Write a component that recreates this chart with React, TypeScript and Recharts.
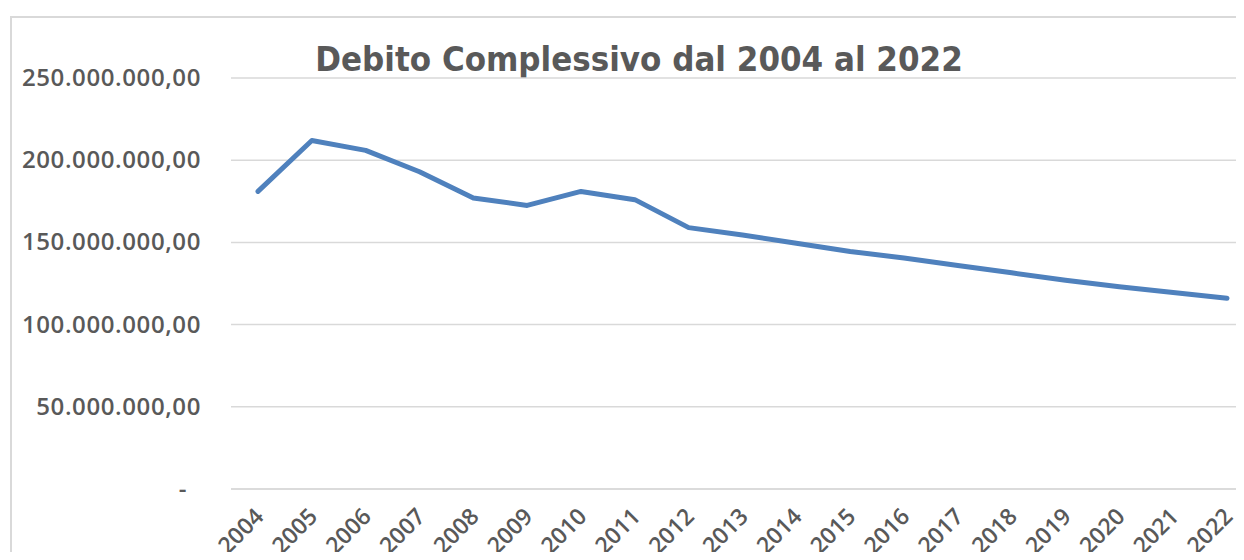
import { LineChart, Line, XAxis, YAxis, CartesianGrid } from 'recharts';

const years = [
  '2004', '2005', '2006', '2007', '2008', '2009', '2010', '2011', '2012', '2013',
  '2014', '2015', '2016', '2017', '2018', '2019', '2020', '2021', '2022',
];
const debito = [
  181000000, 212000000, 206000000, 193000000, 177000000, 172500000, 181000000, 176000000, 159000000, 154500000,
  149500000, 144500000, 140500000, 136000000, 131500000, 127000000, 123000000, 119500000, 116000000,
];
const yTicks = [0, 50000000, 100000000, 150000000, 200000000, 250000000];

const chartData = years.map((y, i) => ({ anno: y, debito: debito[i] }));

const GREY = '#595959';
const FONT = '"Open Sans", sans-serif';

// formato contabile italiano: 250.000.000,00 e "-" per lo zero
const fmt = (v: number) =>
  v === 0 ? '-' : v.toLocaleString('it-IT', { minimumFractionDigits: 2, maximumFractionDigits: 2 });

const YTick = ({ x, y, payload }: { x?: number; y?: number; payload?: { value: number } }) => {
  if (x == null || y == null || !payload) return null;
  const zero = payload.value === 0;
  return (
    <text x={zero ? x - 14 : x} y={y} dy={8} textAnchor="end"
      fill={GREY} fontSize={24} fontWeight={600} fontFamily={FONT} letterSpacing={0.6}>
      {fmt(payload.value)}
    </text>
  );
};

const XTick = ({ x, y, payload }: { x?: number; y?: number; payload?: { value: string } }) => {
  if (x == null || y == null || !payload) return null;
  const tx = x + 7;
  const ty = y + 21;
  return (
    <text x={tx} y={ty} textAnchor="end" transform={`rotate(-45, ${tx}, ${ty})`}
      fill={GREY} fontSize={23} fontWeight={600} fontFamily={FONT}>
      {payload.value}
    </text>
  );
};

export default function App() {
  return (
    <div style={{ position: 'relative', width: 1244, height: 560, margin: -8, overflow: 'hidden', background: '#fff' }}>
      <div style={{
        position: 'absolute', left: 10, top: 16, right: -4, bottom: -4,
        borderLeft: '2px solid #d9d9d9', borderTop: '2px solid #d9d9d9',
      }} />
      <div style={{
        position: 'absolute', left: 0, width: 1278, top: 37, textAlign: 'center',
        fontFamily: '"DejaVu Sans Condensed", sans-serif', fontWeight: 700, fontSize: 34.5,
        color: GREY, lineHeight: '44px',
      }}>
        Debito Complessivo dal 2004 al 2022
      </div>
      <div style={{ position: 'absolute', left: 0, top: 0 }}>
        <LineChart width={1262} height={560} data={chartData}
          margin={{ top: 78, right: 9, left: 0, bottom: 0 }}>
          <CartesianGrid vertical={false} stroke="#d9d9d9" strokeWidth={1.5} />
          <XAxis dataKey="anno" interval={0} tick={<XTick />} tickLine={false}
            padding={{ left: 27, right: 26 }}
            axisLine={{ stroke: '#d9d9d9', strokeWidth: 1.5 }} height={71} />
          <YAxis domain={[0, 250000000]} ticks={yTicks} width={231} tick={<YTick />}
            axisLine={false} tickLine={false} tickSize={0} tickMargin={30} />
          <Line type="linear" dataKey="debito" stroke="#4f81bd" strokeWidth={5}
            strokeLinecap="round" strokeLinejoin="round" dot={false} isAnimationActive={false} />
        </LineChart>
      </div>
    </div>
  );
}
